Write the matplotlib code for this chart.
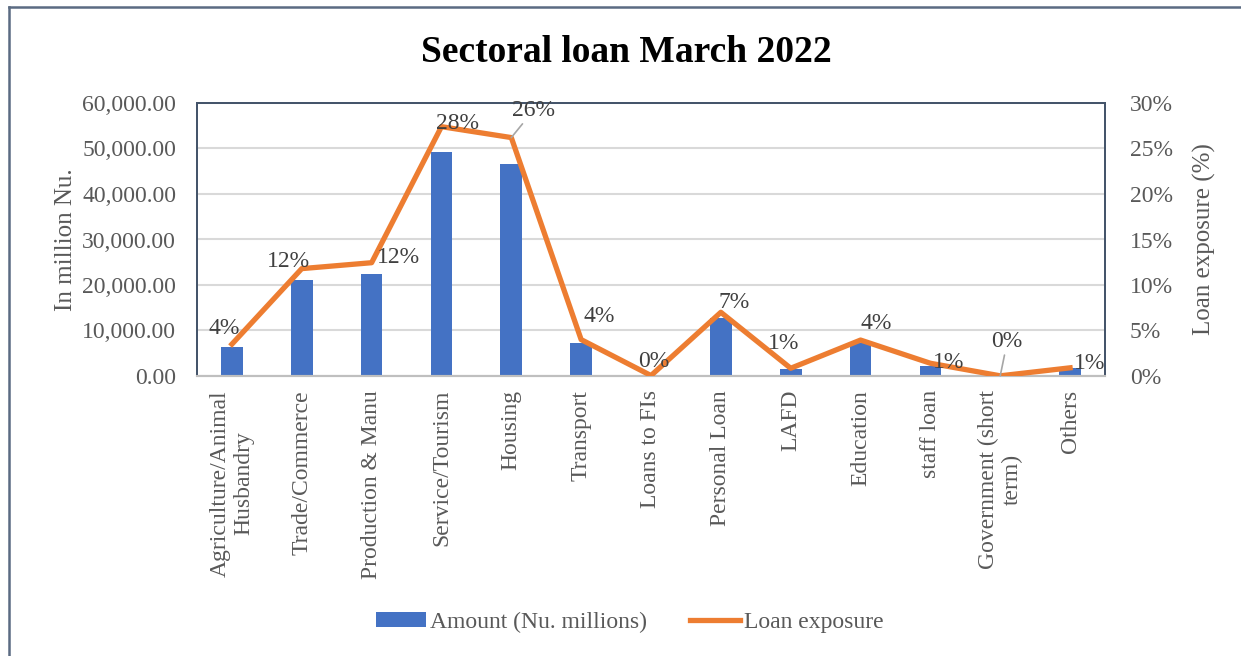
import matplotlib
matplotlib.use("Agg")
import matplotlib.pyplot as plt
from matplotlib.lines import Line2D
from matplotlib.patches import Patch
from matplotlib.ticker import FuncFormatter, MultipleLocator

categories = ["Agriculture/Animal\nHusbandry", "Trade/Commerce", "Production & Manu",
              "Service/Tourism", "Housing", "Transport", "Loans to FIs", "Personal Loan",
              "LAFD", "Education", "staff loan", "Government (short\nterm)", "Others"]
amount = [6400, 21000, 22400, 49300, 46700, 7300, 80, 12700, 1500, 7200, 2200, 30, 1700]
exposure = [3.5, 11.8, 12.45, 27.4, 26.2, 4.0, 0.05, 7.0, 0.85, 3.95, 1.4, 0.02, 0.9]
exposure_labels = ["4%", "12%", "12%", "28%", "26%", "4%", "0%", "7%", "1%", "4%", "1%", "0%", "1%"]

# label offsets in pixels (style only)
label_dx = [-8, -13, 27, 16, 22, 18, 3, 13, -7, 16, 18, 7, 20]
label_dy = [16, 7, 5, 3, 27, 23, 14, 10, 25, 17, 1, 34, 4]
leader = [False, False, False, False, True, False, False, False, False, False, False, True, False]

plt.rcParams['font.family'] = ['Liberation Serif', 'DejaVu Serif']
TXT = "#595959"

fig = plt.figure(figsize=(12.41, 6.56), dpi=100)
ax = fig.add_axes([197/1241, 1-376/656, (1105-197)/1241, (376-103)/656])
ax2 = ax.twinx()

x = list(range(len(categories)))
ax.bar(x, amount, width=0.31, color="#4472C4", zorder=2)
ax.set_ylim(0, 60000)
ax.set_xlim(-0.5, len(categories)-0.5)
ax.yaxis.set_major_locator(MultipleLocator(10000))
ax.yaxis.set_major_formatter(FuncFormatter(lambda v, p: f"{v:,.2f}"))
ax.grid(axis='y', color="#D9D9D9", linewidth=1.5, zorder=0)
ax.set_axisbelow(True)
ax.set_xticks(x)
ax.set_xticklabels(categories, rotation=90, ha='center', va='top', multialignment='center',
                   fontsize=17, color=TXT)
ax.tick_params(axis='x', length=0, pad=10)
ax.tick_params(axis='y', length=0, pad=15, labelsize=17, labelcolor=TXT)
ax.set_ylabel("In million Nu.", fontsize=18, color=TXT, labelpad=4)

ax2.plot(x, exposure, color="#ED7D31", linewidth=3.8, solid_joinstyle='round', zorder=3)
ax2.set_ylim(0, 30)
ax2.yaxis.set_major_locator(MultipleLocator(5))
ax2.yaxis.set_major_formatter(FuncFormatter(lambda v, p: f"{v:.0f}%"))
ax2.tick_params(axis='y', length=0, pad=18, labelsize=17, labelcolor=TXT)
ax2.set_ylabel("Loan exposure (%)", fontsize=18, color=TXT, labelpad=14)

for i in x:
    kw = {}
    if leader[i]:
        kw['arrowprops'] = dict(arrowstyle='-', color="#A6A6A6", lw=1.2, shrinkA=0, shrinkB=0)
    ax2.annotate(exposure_labels[i], (i, exposure[i]), xytext=(label_dx[i], label_dy[i]),
                 textcoords='offset pixels', ha='center', va='center', fontsize=17,
                 color="#404040", zorder=5, **kw)

spine_col = "#44546A"
for a in (ax, ax2):
    for s in ('left', 'right', 'top'):
        a.spines[s].set_color(spine_col)
        a.spines[s].set_linewidth(1.3)
    a.spines['bottom'].set_color("#BFBFBF")
    a.spines['bottom'].set_linewidth(1.5)

fig.suptitle("Sectoral loan March 2022", fontsize=27, fontweight='bold', color='black',
             x=626/1241, y=1-52/656, va='center')

handles = [Patch(facecolor="#4472C4", label="Amount (Nu. millions)"),
           Line2D([0], [0], color="#ED7D31", lw=3.8, label="Loan exposure")]
fig.legend(handles=handles, loc='center', bbox_to_anchor=(630/1241, 1-622/656), ncol=2,
           frameon=False, fontsize=17, labelcolor=TXT, handlelength=2.1, handletextpad=0.2,
           columnspacing=1.8, handleheight=0.6)

# outer border (partially visible)
fig.add_artist(Line2D([8.5/1241, 8.5/1241], [0, 1-7/656], transform=fig.transFigure,
                      color="#5B6B82", lw=1.8))
fig.add_artist(Line2D([8.5/1241, 1], [1-7/656, 1-7/656], transform=fig.transFigure,
                      color="#5B6B82", lw=1.8))

fig.savefig("out.png", dpi=100, facecolor='white')
